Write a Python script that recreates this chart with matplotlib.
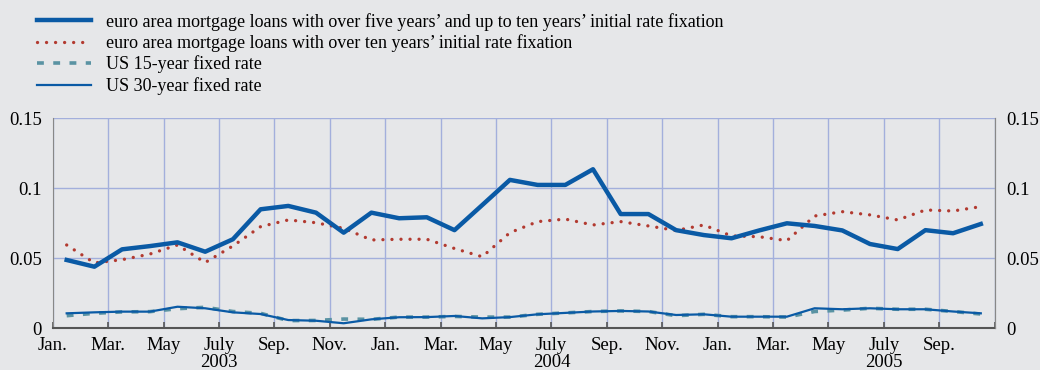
import numpy as np
import matplotlib
matplotlib.use('Agg')
import matplotlib.pyplot as plt
from matplotlib.lines import Line2D

plt.rcParams['font.family'] = ['Liberation Serif', 'DejaVu Serif']

# monthly values, Jan 2003 - Oct 2005
euro_5_10 = [0.0488, 0.0440, 0.0564, 0.0587, 0.0614, 0.0547, 0.0636, 0.0850, 0.0874, 0.0826, 0.0683, 0.0826,
             0.0786, 0.0793, 0.0701, 0.0880, 0.1060, 0.1024, 0.1024, 0.1136, 0.0816, 0.0816, 0.0701, 0.0666,
             0.0643, 0.0699, 0.0750, 0.0731, 0.0699, 0.0602, 0.0566, 0.0701, 0.0679, 0.0745]
euro_10 = [0.0595, 0.0467, 0.0490, 0.0530, 0.0595, 0.0470, 0.0588, 0.0726, 0.0774, 0.0754, 0.0714, 0.0631,
           0.0636, 0.0636, 0.0570, 0.0511, 0.0683, 0.0762, 0.0780, 0.0738, 0.0762, 0.0731, 0.0699, 0.0738,
           0.0660, 0.0654, 0.0626, 0.0802, 0.0833, 0.0810, 0.0774, 0.0845, 0.0838, 0.0869]
us_15 = [0.0090, 0.0107, 0.0117, 0.0119, 0.0140, 0.0150, 0.0120, 0.0107, 0.0055, 0.0056, 0.0066, 0.0064,
         0.0080, 0.0080, 0.0085, 0.0080, 0.0080, 0.0100, 0.0110, 0.0120, 0.0124, 0.0120, 0.0090, 0.0100,
         0.0083, 0.0083, 0.0080, 0.0120, 0.0130, 0.0143, 0.0136, 0.0136, 0.0120, 0.0102]
us_30 = [0.0107, 0.0114, 0.0119, 0.0119, 0.0154, 0.0143, 0.0114, 0.0102, 0.0059, 0.0054, 0.0036, 0.0064,
         0.0079, 0.0080, 0.0088, 0.0071, 0.0080, 0.0100, 0.0110, 0.0120, 0.0124, 0.0120, 0.0095, 0.0100,
         0.0083, 0.0083, 0.0083, 0.0143, 0.0136, 0.0143, 0.0136, 0.0136, 0.0120, 0.0107]

month_labels = ['Jan.', 'Mar.', 'May', 'July', 'Sep.', 'Nov.'] * 3
years = ['2003', '2004', '2005']
y_ticks = [0, 0.05, 0.1, 0.15]
y_labels = ['0', '0.05', '0.1', '0.15']

labels = ["euro area mortgage loans with over five years\u2019 and up to ten years\u2019 initial rate fixation",
          "euro area mortgage loans with over ten years\u2019 initial rate fixation",
          "US 15-year fixed rate",
          "US 30-year fixed rate"]

bg = '#e6e7e9'
blue = '#0a5aa5'
red = '#b23a30'
teal = '#5a93a3'
grid_c = '#a3afdc'
fs = 13.5

x = np.arange(len(euro_5_10))

fig = plt.figure(figsize=(10.4, 3.7), dpi=100, facecolor=bg)
ax = fig.add_axes([0.0508, 0.1127, 0.9056, 0.5676], facecolor=bg)

ax.plot(x, us_15, color=teal, lw=2.6, linestyle=(0, (1.9, 2.6)), zorder=3)
ax.plot(x, us_30, color=blue, lw=1.6, zorder=4)
ax.plot(x, euro_10, color=red, lw=2.4, linestyle=(0, (0.01, 2.7)), dash_capstyle='round', zorder=3)
ax.plot(x, euro_5_10, color=blue, lw=3.2, zorder=5)

ax.set_xlim(-0.5, len(x) - 0.5)
ax.set_ylim(0, 0.15)

bounds = np.arange(-0.5, len(x), 2)
ax.set_xticks(bounds)
ax.set_xticklabels(month_labels[:len(bounds) - 1] + [''])
ax.set_yticks(y_ticks)
ax.set_yticklabels(y_labels)
ax.grid(True, color=grid_c, lw=1.0, zorder=0)
ax.set_axisbelow(True)
ax.tick_params(axis='x', direction='in', length=4, width=1.2, color='#555555', labelsize=fs, pad=6)
ax.tick_params(axis='y', length=0, labelsize=fs, pad=8)

ax.spines['top'].set_visible(False)
ax.spines['left'].set_color('#888888')
ax.spines['right'].set_color('#888888')
ax.spines['bottom'].set_color('#555555')
ax.spines['bottom'].set_linewidth(1.5)

ax2 = ax.twinx()
ax2.set_ylim(0, 0.15)
ax2.set_yticks(y_ticks)
ax2.set_yticklabels(y_labels)
ax2.tick_params(axis='y', length=0, labelsize=fs, pad=8.5)
for s in ['top', 'left', 'bottom']:
    ax2.spines[s].set_visible(False)
ax2.spines['right'].set_color('#888888')

for i, yr in enumerate(years):
    ax.text(5.5 + 12 * i, -0.0245, yr, ha='center', va='center', fontsize=fs, clip_on=False)

handles = [Line2D([], [], color=blue, lw=3.2),
           Line2D([], [], color=red, lw=2.4, linestyle=(0, (0.01, 2.7)), dash_capstyle='round'),
           Line2D([], [], color=teal, lw=2.6, linestyle=(0, (1.9, 2.6))),
           Line2D([], [], color=blue, lw=1.6)]
fig.legend(handles, labels, loc='upper left', bbox_to_anchor=(0.0235, 1.0), frameon=False,
           fontsize=13, handlelength=3.0, handletextpad=0.83, labelspacing=0.2, borderaxespad=0.3)

fig.savefig('out.png', dpi=100, facecolor=bg)
